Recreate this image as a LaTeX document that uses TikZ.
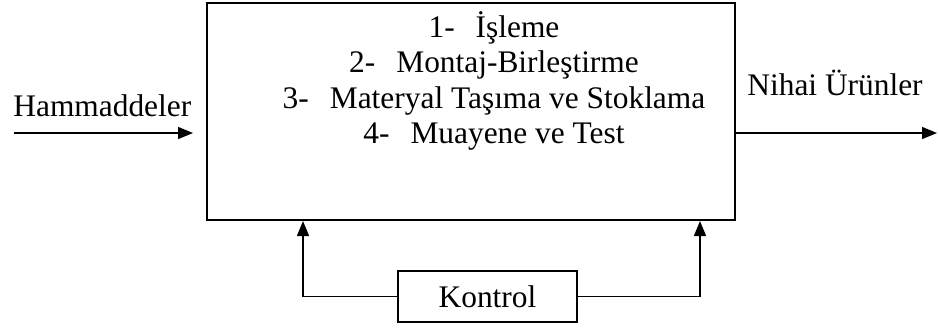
\documentclass[tikz,border=0pt]{standalone}
\usepackage{fontspec}
\setmainfont{Liberation Serif}
\usetikzlibrary{arrows.meta}

\tikzset{
    box/.style={draw, line width=1pt, inner sep=0pt},
    flow/.style={line width=0.75pt, -{Triangle[length=7.5pt,width=6pt]}},
    txt/.style={inner sep=0pt, font=\fontsize{15.7}{17.5}\selectfont}
}

\begin{document}
\begin{tikzpicture}[x=0.5pt, y=-0.5pt]
        \useasboundingbox (0,0) rectangle (938,329);
        \node[box, minimum width=264pt, minimum height=108.5pt] (proc) at (471,111.5) {};
        \node[txt, anchor=base] (s1) at (494,37) {1-\hspace{10.5pt}İşleme};
        \node[txt, anchor=base] (s2) at (494,72) {2-\hspace{10.5pt}Montaj-Birleştirme};
        \node[txt, anchor=base] (s3) at (494,108) {3-\hspace{10.5pt}Materyal Taşıma ve Stoklama};
        \node[txt, anchor=base] (s4) at (494,143) {4-\hspace{10.5pt}Muayene ve Test};
        \node[txt, anchor=base west] (raw) at (13,116) {Hammaddeler};
        \node[txt, anchor=base west] (final) at (747,95) {Nihai Ürünler};
        \node[box, txt, minimum width=89.5pt, minimum height=25.5pt] (ctrl) at (487.5,296.5) {Kontrol};
        \coordinate (inA) at (14,133);
        \coordinate (inB) at (193,133);
        \coordinate (outB) at (937,133);
        \coordinate (fbL) at (303,0);
        \coordinate (fbR) at (700,0);
        \draw[flow] (inA) -- (inB);
        \draw[flow] (proc.east |- outB) -- (outB);
        \draw[flow] (ctrl.west) -| (fbL |- proc.south);
        \draw[flow] (ctrl.east) -| (fbR |- proc.south);
    \end{tikzpicture}
\end{document}
